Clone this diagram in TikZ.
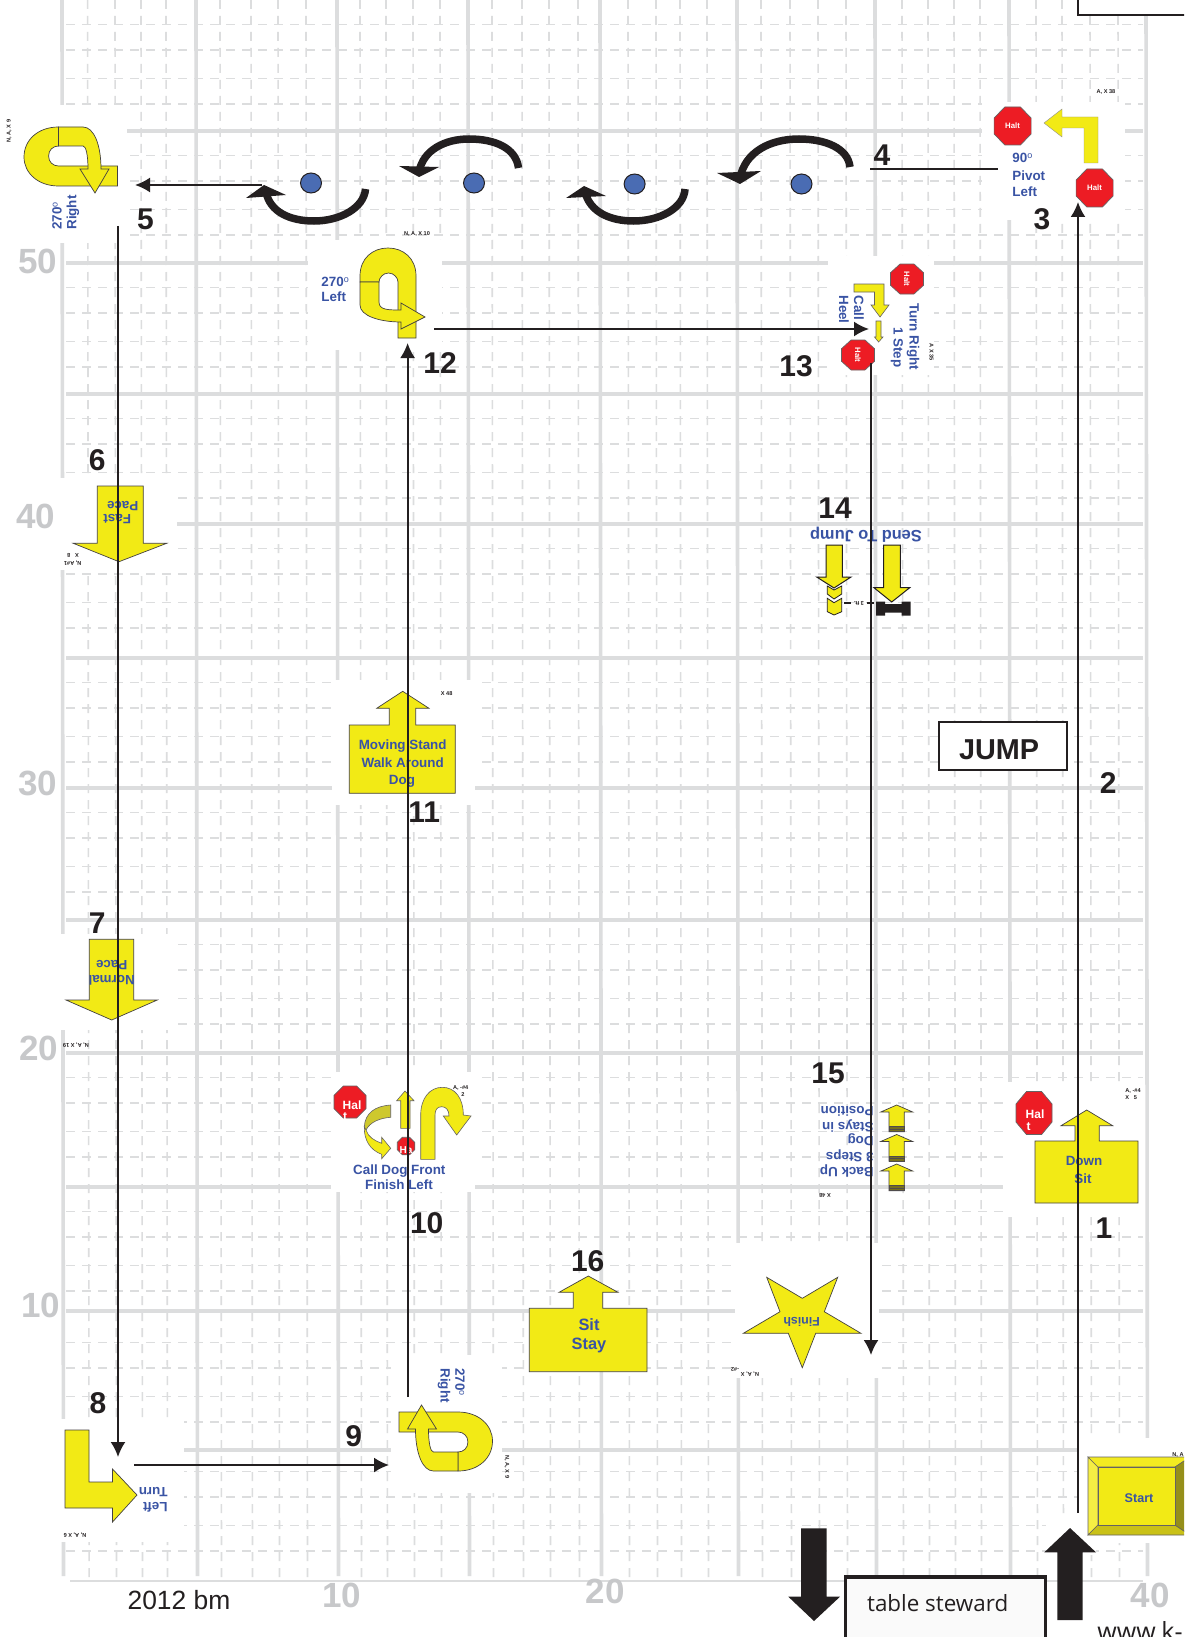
\documentclass[tikz,border=0pt]{standalone}
\usepackage{fontspec}
\setmainfont{Liberation Sans}
\newfontfamily\stewardfont{Open Sans}
\usetikzlibrary{arrows.meta}
\definecolor{gridc}{HTML}{DCDDDE}
\definecolor{numgray}{HTML}{C7C8CA}
\definecolor{ink}{HTML}{231F20}
\definecolor{signy}{HTML}{F2EA15}
\definecolor{signb}{HTML}{3953A4}
\definecolor{signr}{HTML}{ED1C24}
\definecolor{dotb}{HTML}{4A6CB3}
\newcommand{\degsign}{\raisebox{.3em}{\mdseries\fontsize{4.5}{5}\selectfont o}}
\tikzset{
  gridmajor/.style={draw=gridc,line width=1.8pt},
  gridminor/.style={draw=gridc,line width=.8pt,dash pattern=on 4.5pt off 3.5pt},
  whitebox/.style={fill=white,draw=none},
  yshape/.style={fill=signy,draw=ink!85,line width=.35pt,line join=miter},
  btext/.style={text=signb,inner sep=0pt,font=\bfseries\fontsize{6.7}{8}\selectfont},
  num/.style={text=ink,inner sep=0pt,font=\bfseries\fontsize{15}{15}\selectfont},
  coord/.style={text=numgray,inner sep=0pt,font=\bfseries\fontsize{17.5}{17.5}\selectfont},
  tiny/.style={text=ink,inner sep=0pt,font=\bfseries\fontsize{2.8}{3.2}\selectfont},
  link/.style={draw=ink,line width=1pt,-{Latex[length=7.5pt,width=7.5pt]}},
  plainlink/.style={draw=ink,line width=1.2pt},
  turnarc/.style={draw=ink,line width=3.75pt},
  blackhead/.style={fill=ink,draw=none},
  halttext/.style={text=white,inner sep=0pt,font=\bfseries\fontsize{3.9}{4.5}\selectfont},
}
\newcommand{\haltsign}[5]{%
  \begin{scope}[shift={(#1,#2)},xscale=#3/2,yscale=#4/2]
    \filldraw[fill=signr,draw=ink!70,line width=.35pt] (-.42,-1)--(.42,-1)--(1,-.42)--(1,.42)--(.42,1)--(-.42,1)--(-1,.42)--(-1,-.42)--cycle;
  \end{scope}
  \node[halttext,rotate=#5] at (#1,#2) {Halt};}
\newcommand{\octonly}[4]{%
  \begin{scope}[shift={(#1,#2)},xscale=#3/2,yscale=#4/2]
    \filldraw[fill=signr,draw=ink!70,line width=.35pt] (-.42,-1)--(.42,-1)--(1,-.42)--(1,.42)--(.42,1)--(-.42,1)--(-1,.42)--(-1,-.42)--cycle;
  \end{scope}}
\newcommand{\uturnshape}{%
  \path[yshape] (117.5,186) -- (58.5,186) .. controls (38,186) and (24,173) .. (24,157) .. controls (24,140) and (38,127) .. (58.5,127) -- (58.5,146) .. controls (53,146) and (48.6,150) .. (48.6,156) .. controls (48.6,162) and (53,166) .. (58.5,166) -- (117.5,166) -- cycle;
  \path[yshape] (58.5,127) -- (83,127) .. controls (94,127) and (101,145) .. (101,169) -- (109,169) -- (95,193) -- (80,169) -- (88,169) .. controls (88,155) and (86,146) .. (83,146) -- (58.5,146) -- cycle;}
\newcommand{\backarrow}[1]{%
  \begin{scope}[shift={(0,#1)}]
    \path[yshape] (896.7,0)--(912.7,7)--(904.3,7)--(904.3,26.7)--(889,26.7)--(889,7)--(880.7,7)--cycle;
    \path[fill=ink!60!signy,draw=ink!80,line width=.3pt] (889,21.5) rectangle (904.3,26.7);
    \draw[ink!80,line width=.3pt] (889,24) -- (904.3,24);
  \end{scope}}
\begin{document}
\begin{tikzpicture}[x=.5pt,y=-.5pt]
\useasboundingbox (0,0) rectangle (1184,1637);
\clip (0,0) rectangle (1184,1637);
\fill[white] (0,0) rectangle (1184,1637);
% ---------- grid
\foreach \gx in {87.6,115,141,166,220,251,278,306,360,386,413,440,492,522,549,578,628,656,680,707,761,790,818,846,902,928,954,980,1036,1062,1090,1118}
  \path[gridminor] (\gx,0) -- (\gx+1.5,1578);
\foreach \gb in {0,131,263,394,524,658,788,920,1053,1187,1318,1447}
  \foreach \go in {24.5,50,78.5,104}
    \path[gridminor] (66,\gb+\go) -- (1143,\gb+\go);
\foreach \gy in {131,263,394,524,658,788,920,1053,1187,1311,1450}
  \path[gridmajor] (66,\gy) -- (1143,\gy);
\foreach \gx in {62,196,337,468,600,737,875,1009,1146}
  \path[gridmajor] (\gx,0) -- (\gx+1.5,1576);
\draw[gridc,line width=1pt] (70,1581) -- (1143,1581);
% ---------- white patches behind the exercise signs
\fill[whitebox] (0,105) rectangle (127,243);
\fill[whitebox] (308,240) rectangle (442,350);
\fill[whitebox] (982,102) rectangle (1125,220);
\fill[whitebox] (828,256) rectangle (934,375);
\fill[whitebox] (55,478) rectangle (177,570);
\fill[whitebox] (50,934) rectangle (172,1030);
\fill[whitebox] (332,680) rectangle (475,805);
\fill[whitebox] (331,1072) rectangle (475,1192);
\fill[whitebox] (1003,1082) rectangle (1145,1217);
\fill[whitebox] (735,1243) rectangle (879,1378);
\fill[whitebox] (391,1355) rectangle (502,1493);
\fill[whitebox] (0,1419) rectangle (184,1542);
\fill[whitebox] (1078,1438) rectangle (1184,1543);
\fill[whitebox] (1046,1515) rectangle (1096,1555);
% ---------- gray coordinates
\node[coord] (c50) at (38,261) {50};
\node[coord] (c40) at (36,516) {40};
\node[coord] (c30) at (38,783) {30};
\node[coord] (c20) at (39,1048) {20};
\node[coord] (c10) at (41,1305) {10};
\node[coord] (b10) at (342,1595) {10};
\node[coord] (b20) at (605,1591) {20};
\node[coord] (b40) at (1150,1595) {40};
% ---------- top right box and JUMP
\filldraw[fill=white,draw=ink,line width=1pt] (1078,-10) rectangle (1200,14.7);
\node[draw=ink,fill=white,line width=1pt,minimum width=64pt,minimum height=23.8pt,inner sep=0pt,font=\bfseries\fontsize{14.4}{15}\selectfont,text=ink] (jump) at (1003.3,746.2) {};
\node[text=ink,inner sep=0pt,font=\bfseries\fontsize{14.4}{15}\selectfont] (jumpt) at (999,750) {JUMP};
% ---------- 3  pivot
\haltsign{1012.6}{126}{37}{38}{0}
\haltsign{1094.6}{188}{37}{38}{0}
\path[fill=signy,draw=ink!50,line width=.2pt] (1044,123)--(1062,109)--(1062,117)--(1098,117)--(1098,163)--(1084,163)--(1084,128)--(1062,128)--(1062,137)--cycle;
\node[btext,anchor=west] (t3a) at (1012,158) {90\degsign};
\node[btext,anchor=west] (t3b) at (1012,176) {Pivot};
\node[btext,anchor=west] (t3c) at (1012,192) {Left};
\node[tiny] (s3) at (1106,92) {A, X 38};
% ---------- dots and handler arcs
\filldraw[fill=dotb,draw=ink,line width=.5pt] (801.5,184) ellipse [x radius=10.5,y radius=10];
\filldraw[fill=dotb,draw=ink,line width=.5pt] (634.6,184) ellipse [x radius=10.5,y radius=10];
\filldraw[fill=dotb,draw=ink,line width=.5pt] (474,183) ellipse [x radius=10.5,y radius=10];
\filldraw[fill=dotb,draw=ink,line width=.5pt] (311,183) ellipse [x radius=10.5,y radius=10];
\path[turnarc] (850,167) .. controls (848,148) and (825,139) .. (799,139) .. controls (770,139) and (745,152) .. (740,178);
\path[blackhead] (717,173)--(761,171)--(740,184)--cycle;
\path[turnarc] (518.5,168) .. controls (516,148) and (495,139) .. (469,139) .. controls (445,139) and (423,150) .. (419,172);
\path[blackhead] (399,166)--(439,167)--(419,177)--cycle;
\path[turnarc] (365.5,189) .. controls (364,208) and (340,221) .. (314,221) .. controls (290,221) and (270,212) .. (266,192);
\path[blackhead] (246,198)--(286,195)--(264,185)--cycle;
\path[turnarc] (685,189) .. controls (684,208) and (660,221) .. (633.5,221) .. controls (610,221) and (590,212) .. (585,192);
\path[blackhead] (566,198)--(606,196)--(584,186)--cycle;
% ---------- 5 and 9  u-turns
\uturnshape
\node[btext,rotate=90,anchor=west] (t5a) at (57,230) {270\degsign};
\node[btext,rotate=90,anchor=west] (t5b) at (73,230) {Right};
\node[tiny,rotate=90] (s5) at (9,131) {N, A, X 9};
\begin{scope}[shift={(516.5,1598)},rotate=180]
  \uturnshape
\end{scope}
\node[btext,rotate=-90,anchor=west] (t9a) at (460,1368) {270\degsign};
\node[btext,rotate=-90,anchor=west] (t9b) at (444,1368) {Right};
\node[tiny,rotate=-90] (s9) at (507,1467) {N, A, X 9};
% ---------- 12
\path[yshape] (416,338) -- (416,276) .. controls (416,258) and (403,248) .. (388,248) .. controls (373,248) and (360,258) .. (360,276) -- (360,282) -- (379,282) .. controls (379,278) and (383,273) .. (388.5,273) .. controls (394,273) and (398,278) .. (398,282) -- (398,338) -- cycle;
\path[yshape] (360,282) -- (360,305) .. controls (360,316) and (380,322) .. (401,322) -- (401,329) -- (425,317) -- (401,303) -- (401,310) .. controls (388,310) and (379,310) .. (379,302) -- (379,282) -- cycle;
\node[btext,anchor=west] (t12a) at (321,282) {270\degsign};
\node[btext,anchor=west] (t12b) at (321,297) {Left};
\node[tiny] (s12) at (417,234) {N, A, X 10};
% ---------- 13
\haltsign{907}{279}{33}{30}{-90}
\haltsign{858}{355}{33}{30}{-90}
\path[fill=signy,draw=ink!70,line width=.3pt] (854,284)--(884,284)--(884,305)--(889,305)--(880,317)--(871,305)--(874.5,305)--(874.5,292)--(854,292)--cycle;
\path[fill=signy,draw=ink!70,line width=.3pt] (876,321)--(881,321)--(881,337)--(883,337)--(878.6,342)--(874.5,337)--(876,337)--cycle;
\node[btext,rotate=-90,anchor=west] (t13a) at (859,295) {Call};
\node[btext,rotate=-90,anchor=west] (t13b) at (844,295) {Heel};
\node[btext,rotate=-90,anchor=west] (t13c) at (913,303) {Turn Right};
\node[btext,rotate=-90,anchor=west] (t13d) at (897,327) {1 Step};
\node[tiny,rotate=-90] (s13) at (931.5,352) {A X 35};
% ---------- 6 and 7
\path[yshape] (97.3,486)--(143.3,486)--(143.3,543.3)--(166.7,543.3)--(119,561.7)--(73.3,543.3)--(97.3,543.3)--cycle;
\node[btext,rotate=180] (t6a) at (117.3,519.3) {Fast};
\node[btext,rotate=180] (t6b) at (122.7,506) {Pace};
\node[tiny,rotate=180] (s6a) at (72.7,562.7) {N, A\#1};
\node[tiny,rotate=180] (s6b) at (73,555) {X \ \ 8};
\path[yshape] (89.3,939.3)--(133.7,939.3)--(133.7,1000)--(157.3,1000)--(111.7,1020)--(66,1000)--(89.3,1000)--cycle;
\node[btext,rotate=180] (t7a) at (111.7,980.7) {Normal};
\node[btext,rotate=180] (t7b) at (111.7,965) {Pace};
\node[tiny,rotate=180] (s7) at (76,1045) {N, A, X 19};
% ---------- 8
\path[yshape] (65,1430)--(89,1430)--(89,1482)--(112.5,1482)--(112.5,1469)--(137,1495)--(112.5,1522)--(112.5,1508)--(65,1508)--cycle;
\node[btext,rotate=180,anchor=west] (t8a) at (168,1492) {Turn};
\node[btext,rotate=180,anchor=west] (t8b) at (168,1507) {Left};
\node[tiny,rotate=180] (s8) at (75,1535) {N, A, X 6};
% ---------- 11
\path[yshape] (349.3,725)--(389.3,725)--(389.3,708.3)--(376.7,708.3)--(402.7,691.3)--(429,708.3)--(415.7,708.3)--(415.7,725)--(455.3,725)--(455.3,793.3)--(349.3,793.3)--cycle;
\node[btext] (t11a) at (402.7,746) {Moving Stand};
\node[btext] (t11b) at (402.7,762.3) {Walk Around};
\node[btext] (t11c) at (402,781) {Dog};
\node[tiny] (s11) at (446.7,694) {X 48};
% ---------- 10
\octonly{350}{1102}{32}{32}
\node[text=white,inner sep=0pt,font=\bfseries\fontsize{6}{7}\selectfont] (h10a) at (352,1105) {Hal};
\node[text=white,inner sep=0pt,font=\bfseries\fontsize{6}{7}\selectfont] (h10b) at (345,1117) {t};
\path[fill=signy!80!ink!90,draw=ink!70,line width=.3pt] (390.7,1105) .. controls (375,1106) and (365,1113) .. (364.3,1127) -- (366,1130) .. controls (370,1122) and (380,1118) .. (390.7,1117.3) -- cycle;
\path[fill=signy,draw=ink!70,line width=.3pt] (364.3,1127) .. controls (364,1140) and (370,1150) .. (381.7,1154.3) -- (381.7,1158.7) -- (390.7,1148.3) -- (381.7,1137.3) -- (381.7,1143.3) .. controls (375,1141) and (368,1137) .. (366,1130) -- cycle;
\path[fill=signy,draw=ink!70,line width=.3pt] (405,1091)--(414,1100.7)--(410,1100.7)--(410,1128.3)--(400.7,1128.3)--(400.7,1100.7)--(396.7,1100.7)--cycle;
\octonly{406}{1146}{17.5}{17.5}
\node[text=white,inner sep=0pt,font=\bfseries\fontsize{5}{6}\selectfont] (h10c) at (406,1150) {Ha};
\path[fill=signy,draw=ink!70,line width=.3pt] (420.7,1159.3) -- (420.7,1115) .. controls (420.7,1098) and (430,1087.3) .. (442.3,1087.3) .. controls (455,1087.3) and (463.3,1098) .. (463.3,1115) -- (471,1116) -- (456.7,1135) -- (443.3,1116) -- (449,1116) .. controls (449,1110) and (446,1106.7) .. (441.7,1106.7) .. controls (437,1106.7) and (435,1110) .. (435,1115) -- (435,1159.3) -- cycle;
\node[tiny] (s10a) at (460.7,1088) {A, -\#4};
\node[tiny] (s10b) at (463,1095) {2};
\node[btext] (t10a) at (399.3,1171) {Call Dog Front};
\node[btext] (t10b) at (399,1185) {Finish Left};
% ---------- 14
\node[btext,rotate=180,font=\bfseries\fontsize{8.2}{9}\selectfont] (t14) at (866,535) {Send To Jump};
\path[fill=signy,draw=ink,line width=.4pt] (827.3,586)--(834,590)--(841.7,586)--(841.7,594)--(834,599)--(827.3,594)--cycle;
\path[fill=signy,draw=ink,line width=.4pt] (827.3,598.3)--(834,602.7)--(841.7,598.3)--(841.7,611.7)--(834,615)--(827.3,611.7)--cycle;
\path[fill=signy,draw=ink,line width=.5pt] (826,545)--(842.3,545)--(842.3,577)--(851,577)--(834,588)--(816.7,577)--(826,577)--cycle;
\path[fill=signy,draw=ink,line width=.5pt] (883.7,545)--(900.3,545)--(900.3,587.7)--(909.7,587.7)--(891.7,602)--(874,587.7)--(883.7,587.7)--cycle;
\path[fill=ink] (876,601.7)--(885,601.7)--(885,604)--(901.7,604)--(901.7,601.7)--(910.7,601.7)--(910.7,615.7)--(901.7,615.7)--(901.7,612.7)--(885,612.7)--(885,615.7)--(876,615.7)--cycle;
\draw[ink,line width=.9pt] (844,603.3)--(851,603.3);
\draw[ink,line width=.9pt] (866.7,603.3)--(874,603.3);
\node[tiny,rotate=180] (t14b) at (859,603.3) {3 ft.};
% ---------- 15
\backarrow{1105}
\backarrow{1134.5}
\backarrow{1164}
\node[btext,rotate=180,anchor=west] (t15a) at (874,1171) {Back Up};
\node[btext,rotate=180,anchor=west] (t15b) at (874,1156) {3 Steps};
\node[btext,rotate=180,anchor=west] (t15c) at (874,1140) {Dog};
\node[btext,rotate=180,anchor=west] (t15d) at (874,1126) {Stays in};
\node[btext,rotate=180,anchor=west] (t15e) at (874,1111) {Position};
\node[tiny,rotate=180] (s15) at (825,1195) {X 48};
% ---------- 1
\octonly{1034}{1113}{36}{43}
\node[text=white,inner sep=0pt,font=\bfseries\fontsize{6}{7}\selectfont] (h1a) at (1035,1114) {Hal};
\node[text=white,inner sep=0pt,font=\bfseries\fontsize{6}{7}\selectfont] (h1b) at (1028.5,1127) {t};
\path[yshape] (1035,1141)--(1075,1141)--(1075,1125.7)--(1061,1125.7)--(1086.7,1110)--(1112.7,1125.7)--(1099.3,1125.7)--(1099.3,1141)--(1138,1141)--(1138,1203)--(1035,1203)--cycle;
\node[btext] (t1a) at (1084,1161) {Down};
\node[btext] (t1b) at (1083,1179) {Sit};
\node[tiny,anchor=west] (s1a) at (1125,1091) {A, -\#4};
\node[tiny,anchor=west] (s1b) at (1125,1097.5) {X \ \ 5};
% ---------- 16
\path[yshape] (529.3,1308.3)--(573.3,1308.3)--(573.3,1292.3)--(559,1292.3)--(588.3,1276)--(618,1292.3)--(602.7,1292.3)--(602.7,1308.3)--(647,1308.3)--(647,1371.7)--(529.3,1371.7)--cycle;
\node[btext,font=\bfseries\fontsize{8.2}{9}\selectfont] (t16a) at (589,1325) {Sit};
\node[btext,font=\bfseries\fontsize{8.2}{9}\selectfont] (t16b) at (589,1345.5) {Stay};
% ---------- finish star
\path[yshape] (766.7,1277.3)--(802.3,1298.3)--(837.7,1277.3)--(824.3,1311.7)--(861,1333.3)--(815.7,1333.3)--(802.3,1367.7)--(788.3,1333.3)--(743.3,1333.3)--(780,1311.7)--cycle;
\node[btext,rotate=180,font=\bfseries\fontsize{6.2}{7}\selectfont] (t17) at (801.7,1321.7) {Finish};
\node[tiny,rotate=180] (s17a) at (750,1374.3) {N, A, X};
\node[tiny,rotate=180] (s17b) at (735,1369.3) {-\#2};
% ---------- start
\path[fill=signy!80!white,draw=ink!70,line width=.3pt] (1088,1457)--(1098,1467)--(1098,1525)--(1088,1535)--cycle;
\path[fill=signy!95!white,draw=ink!70,line width=.3pt] (1088,1457)--(1190,1457)--(1175,1467)--(1098,1467)--cycle;
\path[fill=signy!80!ink,draw=ink!70,line width=.3pt] (1088,1535)--(1190,1535)--(1175,1525)--(1098,1525)--cycle;
\path[fill=signy!55!ink,draw=ink!70,line width=.3pt] (1175,1467)--(1190,1457)--(1190,1535)--(1175,1525)--cycle;
\path[fill=signy,draw=ink!70,line width=.35pt] (1098,1467) rectangle (1175,1525);
\node[btext,font=\bfseries\fontsize{6.3}{7}\selectfont] (start) at (1139,1498) {Start};
\node[tiny] (s0) at (1178,1455) {N, A};
% ---------- big arrows and table steward
\path[blackhead] (801,1528.3)--(826.7,1528.3)--(826.7,1596.7)--(840,1596.7)--(814,1621)--(788.3,1596.7)--(801,1596.7)--cycle;
\path[blackhead] (1070,1528)--(1096,1552.3)--(1082.7,1552.3)--(1082.7,1620)--(1057.3,1620)--(1057.3,1552.3)--(1044.3,1552.3)--cycle;
\filldraw[fill=black!2,draw=ink,line width=1.7pt] (845.7,1577) rectangle (1045.7,1660);
\node[text=ink,inner sep=0pt,anchor=west,font=\stewardfont\fontsize{11.2}{12}\selectfont] (steward) at (866.7,1602.7) {table steward};
\node[text=ink,inner sep=0pt,anchor=base west,font=\stewardfont\fontsize{12.5}{13}\selectfont] (www) at (1097,1640) {www.k-};
\node[text=ink,inner sep=0pt,font=\fontsize{13.2}{14}\selectfont] (year) at (179,1600) {2012 bm};
% ---------- exercise numbers
\node[num] (n1) at (1104,1228) {1};
\node[num] (n2) at (1108.3,783.3) {2};
\node[num] (n3) at (1042,219) {3};
\node[num] (n4) at (882,155) {4};
\node[num] (n5) at (145.5,219) {5};
\node[num] (n6) at (97.3,460) {6};
\node[num] (n7) at (97.3,922.7) {7};
\node[num] (n8) at (98,1403) {8};
\node[num] (n9) at (353.6,1436) {9};
\node[num] (n10) at (426.7,1223) {10};
\node[num] (n11) at (424.3,811.7) {11};
\node[num] (n12) at (440,363) {12};
\node[num] (n13) at (796,366) {13};
\node[num] (n14) at (835,508) {14};
\node[num] (n15) at (828,1073) {15};
\node[num] (n16) at (587.7,1261) {16};
% ---------- connectors
\coordinate (a1) at (1078,1513);  \coordinate (a2) at (1078,202);
\coordinate (b1) at (870,169);    \coordinate (b2) at (998,169);
\coordinate (c1) at (262,185);    \coordinate (c2) at (135,185);
\coordinate (d1) at (118,226);    \coordinate (d2) at (118,1457);
\coordinate (e1) at (134,1465);   \coordinate (e2) at (389,1465);
\coordinate (f1) at (407.6,1397); \coordinate (f2) at (407.6,343);
\coordinate (g1) at (434,329);    \coordinate (g2) at (869,329);
\coordinate (i1) at (871,363);    \coordinate (i2) at (871,1355);
\path[link] (a1) -- (a2);
\path[plainlink] (b1) -- (b2);
\path[link] (c1) -- (c2);
\path[link] (d1) -- (d2);
\path[link] (e1) -- (e2);
\path[link] (f1) -- (f2);
\path[link] (g1) -- (g2);
\path[link] (i1) -- (i2);
\end{tikzpicture}
\end{document}
